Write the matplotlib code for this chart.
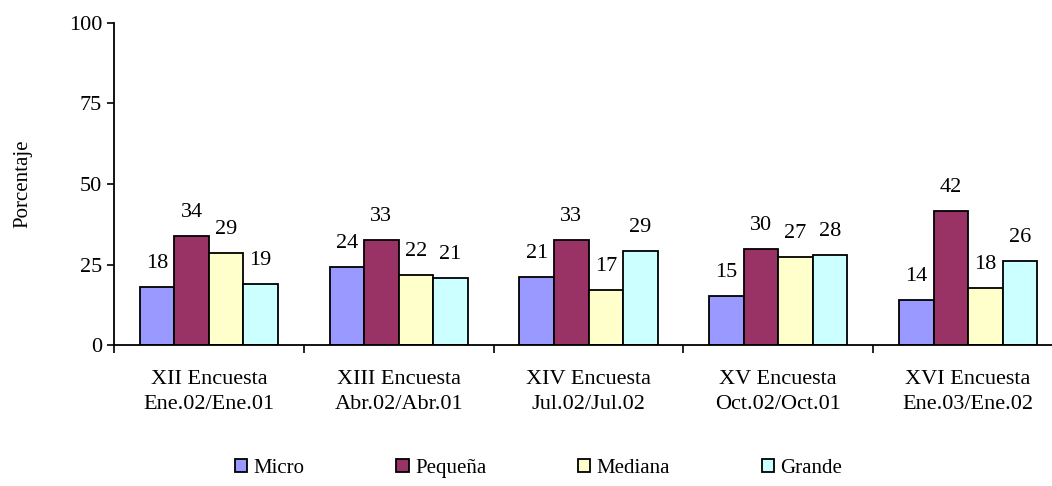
import numpy as np
import matplotlib.pyplot as plt
from matplotlib.ticker import FixedLocator

plt.rcParams["font.family"] = ["Liberation Serif", "DejaVu Serif"]

categories = [
    "XII Encuesta\nEne.02/Ene.01",
    "XIII Encuesta\nAbr.02/Abr.01",
    "XIV Encuesta\nJul.02/Jul.02",
    "XV Encuesta\nOct.02/Oct.01",
    "XVI Encuesta\nEne.03/Ene.02",
]
series_names = ["Micro", "Pequeña", "Mediana", "Grande"]
micro = [18.1, 24.3, 21.2, 15.2, 14.0]
pequena = [33.8, 32.7, 32.7, 29.7, 41.7]
mediana = [28.6, 21.8, 17.0, 27.3, 17.6]
grande = [18.8, 20.7, 29.2, 27.9, 26.2]
colors = ["#9999FF", "#993366", "#FFFFCC", "#CCFFFF"]

fig = plt.figure(figsize=(10.52, 4.86), dpi=100)
ax = fig.add_axes([114 / 1052, 141 / 486, 949 / 1052, 322 / 486])

x = np.arange(len(categories)) + 0.5
w = 0.182
for i, (name, vals) in enumerate(zip(series_names, [micro, pequena, mediana, grande])):
    pos = x + (i - 1.5) * w
    ax.bar(pos, vals, w, color=colors[i], edgecolor="black", linewidth=1.3, label=name)
    for p, v in zip(pos, vals):
        ax.annotate("{:.0f}".format(v), (p, v), xytext=(0, 17), textcoords="offset points",
                    ha="center", va="center", fontsize=16)

ax.set_xlim(0, 5)
ax.set_ylim(0, 100)
ax.set_yticks([0, 25, 50, 75, 100])
ax.tick_params(axis="y", labelsize=16, length=5, width=1.2, direction="out")
ax.xaxis.set_major_locator(FixedLocator(range(6)))
ax.set_xticklabels([])
ax.xaxis.set_minor_locator(FixedLocator(list(x)))
ax.set_xticklabels(categories, minor=True, fontsize=16, linespacing=1.4)
ax.tick_params(axis="x", which="major", length=6, width=1.2)
ax.tick_params(axis="x", which="minor", length=0, pad=18)
for s in ["top", "right"]:
    ax.spines[s].set_visible(False)
for s in ["left", "bottom"]:
    ax.spines[s].set_linewidth(1.3)
ax.set_ylabel("Porcentaje", fontsize=15, labelpad=26)

fig.legend(loc="center", bbox_to_anchor=(0.512, 0.037), ncol=4, frameon=False,
           fontsize=15, handlelength=0.6, handleheight=0.6, columnspacing=4.4,
           handletextpad=0.3)

fig.savefig("out.png", dpi=100)
